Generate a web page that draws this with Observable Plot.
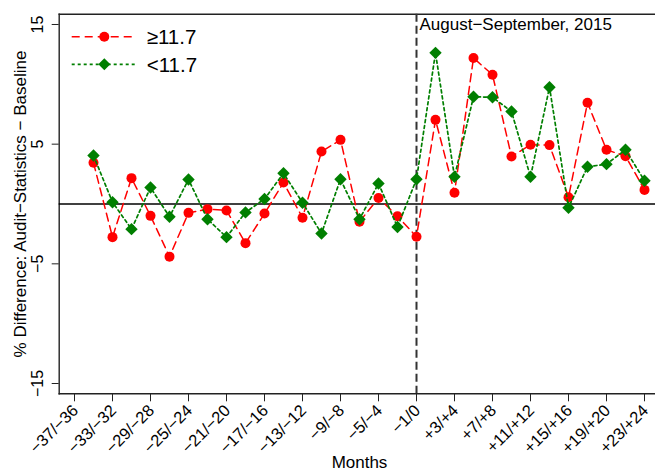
<!DOCTYPE html>
<html>
<head>
<meta charset="utf-8">
<script src="https://cdn.jsdelivr.net/npm/d3@7"></script>
<script src="https://cdn.jsdelivr.net/npm/@observablehq/plot@0.6"></script>
<style>
  html, body { margin: 0; padding: 0; background: #fff; }
  #wrap { position: relative; width: 655px; height: 470px; overflow: hidden; }
  #legend { position: absolute; left: 0; top: 0; }
</style>
</head>
<body>
<div id="wrap"></div>
<script>
// Bimonthly periods (months relative to August–September 2015)
const periods = [
  "−37/−36","−35/−34","−33/−32","−31/−30","−29/−28","−27/−26","−25/−24","−23/−22",
  "−21/−20","−19/−18","−17/−16","−15/−14","−13/−12","−11/−10","−9/−8","−7/−6",
  "−5/−4","−3/−2","−1/0","+1/+2","+3/+4","+5/+6","+7/+8","+9/+10",
  "+11/+12","+13/+14","+15/+16","+17/+18","+19/+20","+21/+22","+23/+24"
];
const tickLabels = [
  "−37/−36","−33/−32","−29/−28","−25/−24","−21/−20","−17/−16","−13/−12","−9/−8",
  "−5/−4","−1/0","+3/+4","+7/+8","+11/+12","+15/+16","+19/+20","+23/+24"
];
const yTicks = [-15, -5, 5, 15];
const dataPeriods = periods.slice(1); // −35/−34 … +23/+24
const seriesHigh = [ // ≥11.7
  3.44, -2.77, 2.16, -0.99, -4.40, -0.74, -0.43, -0.54, -3.27, -0.80,
  1.79, -1.15, 4.38, 5.36, -1.48, 0.50, -1.02, -2.73, 7.03, 0.94,
  12.20, 10.80, 3.97, 4.95, 4.92, 0.57, 8.46, 4.53, 4.00, 1.18
];
const seriesLow = [ // <11.7
  4.05, 0.15, -2.10, 1.38, -1.07, 2.05, -1.27, -2.77, -0.70, 0.42,
  2.57, 0.11, -2.46, 2.07, -1.27, 1.71, -1.92, 2.07, 12.63, 2.28,
  8.96, 8.92, 7.73, 2.27, 9.76, -0.31, 3.11, 3.33, 4.53, 1.95
];
const eventPeriod = "−1/0";
const annotation = "August−September, 2015";
const yTitle = "% Difference: Audit−Statistics − Baseline";
const xTitle = "Months";
const legendLabels = ["≥11.7", "<11.7"];

const RED = "#FF0000", GREEN = "#007F00", INK = "#222";
const high = dataPeriods.map((p, i) => ({period: p, value: seriesHigh[i]}));
const low = dataPeriods.map((p, i) => ({period: p, value: seriesLow[i]}));

const chart = Plot.plot({
  width: 655,
  height: 470,
  marginLeft: 58.7,
  marginTop: 13.7,
  marginBottom: 76.7,
  marginRight: -4.3,
  style: {fontFamily: "'Liberation Sans', Arial, sans-serif", fontSize: "16px", color: "#000", background: "#fff", overflow: "visible"},
  x: {type: "point", domain: periods, padding: 0.533},
  y: {domain: [-15.86, 15.86]},
  marks: [
    Plot.frame({anchor: "top", stroke: INK, strokeWidth: 1.4}),
    Plot.frame({anchor: "left", stroke: INK, strokeWidth: 1.4}),
    Plot.frame({anchor: "bottom", stroke: INK, strokeWidth: 1.4}),
    Plot.ruleY([0], {stroke: "#000", strokeWidth: 1.3}),
    Plot.ruleX([eventPeriod], {stroke: "#333", strokeWidth: 2, strokeDasharray: "8,4"}),
    Plot.line(high, {x: "period", y: "value", stroke: RED, strokeWidth: 1.5, strokeDasharray: "8,5"}),
    Plot.dot(high, {x: "period", y: "value", r: 5, fill: RED}),
    Plot.line(low, {x: "period", y: "value", stroke: GREEN, strokeWidth: 1.7, strokeDasharray: "3,3"}),
    Plot.dot(low, {x: "period", y: "value", symbol: "diamond2", r: 5.6, fill: GREEN, stroke: "none"}),
    Plot.axisY({ticks: yTicks, tickSize: 7, tickRotate: -90, tickPadding: 9, label: null, stroke: INK, fontSize: 16}),
    Plot.axisX({ticks: tickLabels, tickSize: 8, tickFormat: () => "", label: null, stroke: INK}),
    Plot.text(tickLabels, {x: d => d, frameAnchor: "bottom", rotate: -45, textAnchor: "end", lineAnchor: "middle", dy: 14, dx: 1, fontSize: 16.5}),
    Plot.text([yTitle], {frameAnchor: "left", rotate: -90, textAnchor: "middle", lineAnchor: "middle", dx: -39, fontSize: 17}),
    Plot.text([xTitle], {frameAnchor: "bottom", textAnchor: "middle", lineAnchor: "bottom", dy: 74, fontSize: 17}),
    Plot.text([annotation], {x: () => eventPeriod, frameAnchor: "top", lineAnchor: "bottom", textAnchor: "start", dx: 3, dy: 15.6, fontSize: 17})
  ]
});

const wrap = document.getElementById("wrap");
wrap.appendChild(chart);

// Legend (inside the plot area, top-left)
const ns = "http://www.w3.org/2000/svg";
const lg = document.createElementNS(ns, "svg");
lg.setAttribute("id", "legend");
lg.setAttribute("width", "220");
lg.setAttribute("height", "90");
lg.style.fontFamily = "'Liberation Sans', Arial, sans-serif";
const rows = [
  {label: legendLabels[0], color: RED, dash: "8,5", y: 36.7, kind: "dot"},
  {label: legendLabels[1], color: GREEN, dash: "3,3", y: 64.3, kind: "diamond"}
];
for (const r of rows) {
  const ln = document.createElementNS(ns, "line");
  ln.setAttribute("x1", 71.7); ln.setAttribute("x2", 136.7);
  ln.setAttribute("y1", r.y); ln.setAttribute("y2", r.y);
  ln.setAttribute("stroke", r.color);
  ln.setAttribute("stroke-width", r.kind === "dot" ? 1.5 : 1.7);
  ln.setAttribute("stroke-dasharray", r.dash);
  lg.appendChild(ln);
  if (r.kind === "dot") {
    const c = document.createElementNS(ns, "circle");
    c.setAttribute("cx", 104.3); c.setAttribute("cy", r.y); c.setAttribute("r", 5);
    c.setAttribute("fill", r.color);
    lg.appendChild(c);
  } else {
    const p = document.createElementNS(ns, "path");
    const cx = 104.3, cy = r.y, h = 6;
    p.setAttribute("d", `M${cx},${cy - h}L${cx + h},${cy}L${cx},${cy + h}L${cx - h},${cy}Z`);
    p.setAttribute("fill", r.color);
    lg.appendChild(p);
  }
  const t = document.createElementNS(ns, "text");
  t.setAttribute("x", 146.7);
  t.setAttribute("y", r.y + 7.6);
  t.setAttribute("font-size", "20.5");
  t.setAttribute("fill", "#000");
  t.textContent = r.label;
  lg.appendChild(t);
}
wrap.appendChild(lg);
</script>
</body>
</html>
